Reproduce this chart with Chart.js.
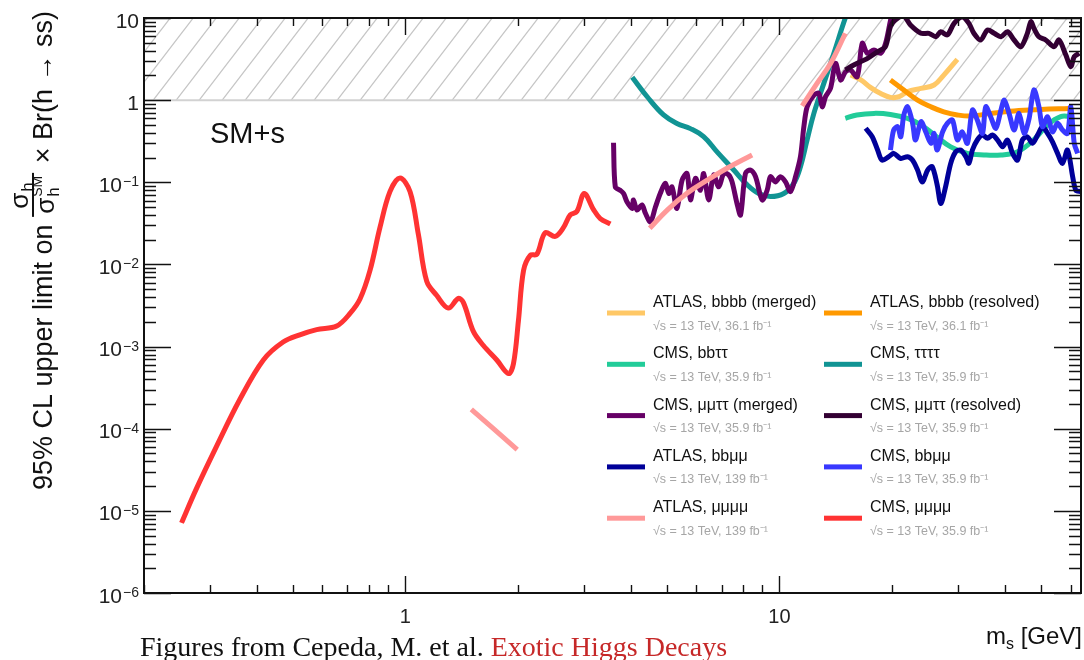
<!DOCTYPE html>
<html>
<head>
<meta charset="utf-8">
<script src="https://cdn.jsdelivr.net/npm/chart.js@4.4.1/dist/chart.umd.min.js"></script>
<style>
  html, body { margin: 0; padding: 0; background: #fff; }
  #wrap { width: 1084px; height: 660px; }
</style>
</head>
<body>
<div id="wrap"><canvas id="chart" width="1084" height="660"></canvas></div>
<script>
// m_s [GeV] and 95% CL limit on sigma_h/sigma_h^SM x Br(h -> ss)
const atlasBbbbMergedX = [15.5, 16.5, 17.5, 18.6, 19.8, 20.9, 22.0, 23.9, 25.9, 27.5, 29.9];
const atlasBbbbMergedY = [2.02, 1.76, 1.43, 1.21, 1.08, 1.10, 1.27, 1.39, 1.53, 2.02, 3.14];

const atlasBbbbResolvedX = [19.8, 21.5, 23.4, 25.4, 27.5, 29.9, 32.5, 36.7, 42.4, 50.0, 59.5];
const atlasBbbbResolvedY = [1.76, 1.33, 1.0, 0.83, 0.72, 0.66, 0.64, 0.69, 0.74, 0.77, 0.79];

const cmsBbtautauX = [15.0, 16.1, 17.9, 19.8, 22.0, 23.9, 25.9, 28.7, 31.8, 35.2, 39.1, 43.3, 47.9, 52.1, 56.5, 60.1];
const cmsBbtautauY = [0.60, 0.66, 0.69, 0.67, 0.60, 0.50, 0.38, 0.27, 0.225, 0.215, 0.215, 0.235, 0.33, 0.50, 0.63, 0.63];

const cms4tauX = [4.04, 4.43, 4.90, 5.32, 5.78, 6.27, 6.81, 7.55, 8.20, 8.80, 9.46, 10.27, 10.92, 11.38, 11.86, 12.36, 13.14, 13.98, 15.0, 15.3];
const cms4tauY = [1.90, 1.10, 0.66, 0.52, 0.45, 0.36, 0.235, 0.141, 0.093, 0.073, 0.067, 0.073, 0.097, 0.155, 0.33, 0.69, 1.60, 3.72, 10, 12];

const cmsMumutautauMergedX = [3.60, 3.64, 3.75, 3.83, 3.91, 4.04, 4.07, 4.16, 4.29, 4.38, 4.52, 4.66, 4.80, 4.95, 5.06,
  5.16, 5.32, 5.49, 5.66, 5.78, 5.96, 6.15, 6.27, 6.47, 6.67, 6.88, 7.10, 7.32, 7.47, 7.70, 7.87, 8.11, 8.37, 8.63, 8.99,
  9.27, 9.46, 9.75, 10.06, 10.38, 10.70, 11.04, 11.38, 11.62, 11.86, 12.36, 12.74, 13.01, 13.28, 13.69, 14.12, 14.57,
  15.02, 15.49, 16.14, 16.65, 17.17, 17.89, 18.64, 19.22, 19.82, 20.1];
const cmsMumutautauMergedY = [0.303, 0.088, 0.080, 0.073, 0.058, 0.048, 0.061, 0.046, 0.053, 0.042, 0.033, 0.050, 0.073, 0.097, 0.073,
  0.088, 0.048, 0.106, 0.128, 0.061, 0.112, 0.080, 0.128, 0.061, 0.123, 0.088, 0.128, 0.123, 0.101, 0.055, 0.040, 0.128, 0.141, 0.117, 0.061,
  0.080, 0.117, 0.101, 0.117, 0.101, 0.077, 0.117, 0.205, 0.474, 0.83, 1.15, 1.21, 0.83, 1.10, 1.39, 2.81, 1.76,
  2.22, 2.33, 1.93, 4.92, 3.72, 4.08, 3.72, 4.92, 9.46, 12];

const cmsMumutautauResolvedX = [15.0, 15.8, 17.2, 18.3, 19.2, 19.8, 20.4, 21.5, 22.4, 23.9, 25.1, 26.2, 27.0, 28.1, 29.3, 30.8, 32.1, 33.1,
  34.5, 36.0, 37.5, 39.1, 40.7, 42.4, 44.2, 46.0, 47.0, 47.9, 49.4, 51.5, 54.2, 55.9, 58.3, 60.1, 61.4, 63.3];
const cmsMumutautauResolvedY = [2.33, 2.68, 3.23, 3.89, 4.47, 7.83, 9.46, 10.5, 8.22, 6.51, 6.51, 5.92, 6.81, 6.21, 8.61, 10.3, 8.61, 6.51,
  5.40, 7.15, 6.51, 5.92, 6.81, 5.40, 4.47, 6.51, 9.02, 7.49, 5.92, 5.40, 4.47, 5.40, 3.54, 2.55, 3.38, 3.72];

const atlasBbmumuX = [17.0, 17.7, 18.3, 18.8, 19.6, 20.2, 21.1, 22.0, 22.7, 23.4, 24.1, 24.9, 25.6, 26.4, 27.0, 27.8, 28.7, 29.6, 30.5, 31.5,
  32.1, 32.8, 33.8, 34.9, 36.0, 37.1, 38.3, 39.5, 40.7, 42.0, 43.3, 44.6, 46.0, 47.5, 49.0, 50.5, 52.1, 53.7, 55.4, 57.1, 58.9, 60.8, 62.0, 63.9];
const atlasBbmumuY = [0.454, 0.358, 0.247, 0.186, 0.205, 0.225, 0.195, 0.205, 0.186, 0.141, 0.101, 0.141, 0.155, 0.093, 0.055, 0.088, 0.170, 0.235, 0.247, 0.205,
  0.170, 0.247, 0.327, 0.376, 0.343, 0.376, 0.327, 0.271, 0.327, 0.225, 0.186, 0.327, 0.358, 0.298, 0.376, 0.474, 0.394, 0.311, 0.225, 0.170, 0.247, 0.117, 0.080, 0.077];

const cmsBbmumuX = [19.8, 20.2, 20.7, 21.1, 21.5, 22.0, 22.7, 23.1, 23.9, 24.6, 25.4, 25.9, 26.4, 27.3, 28.1, 29.0, 29.9, 30.8, 31.8, 32.8,
  33.8, 34.9, 35.6, 36.7, 37.9, 39.1, 39.9, 41.1, 42.4, 43.7, 45.1, 46.5, 47.9, 49.4, 50.5, 52.1, 53.7, 55.4, 57.1, 58.9, 60.1, 61.4, 62.7];
const cmsBbmumuY = [0.247, 0.433, 0.474, 0.358, 0.659, 0.831, 0.522, 0.327, 0.546, 0.412, 0.298, 0.394, 0.247, 0.412, 0.522, 0.573, 0.327, 0.412, 0.298, 0.758,
  0.573, 0.394, 0.831, 0.628, 0.454, 0.758, 1.0, 0.69, 0.433, 0.69, 0.394, 0.60, 1.33, 0.831, 0.474, 0.628, 0.412, 0.522, 0.433, 0.394, 0.831, 0.298, 0.225];

// three separate pieces, null breaks the line
const atlas4muX = [1.50, 1.99, 3.0, 4.50, 5.01, 5.66, 6.41, 7.24, 8.45, 10.0, 11.5, 12.6, 13.7, 15.0];
const atlas4muY = [1.72e-4, 5.58e-5, null, 0.0275, 0.0459, 0.0733, 0.106, 0.148, 0.215, null, 0.85, 1.60, 2.81, 6.51];

const cms4muX = [0.252, 0.276, 0.313, 0.361, 0.417, 0.471, 0.522, 0.579, 0.655, 0.711, 0.756, 0.804, 0.855, 0.909, 0.967, 1.029, 1.083, 1.14, 1.213, 1.302,
  1.385, 1.429, 1.519, 1.616, 1.755, 1.886, 1.945, 2.005, 2.069, 2.156, 2.246, 2.364, 2.515, 2.647, 2.758, 2.874, 3.006, 3.184, 3.318, 3.53];
const cms4muY = [7.14e-6, 1.85e-5, 6.18e-5, 2.28e-4, 6.87e-4, 1.135e-3, 1.39e-3, 1.61e-3, 1.78e-3, 2.53e-3, 3.79e-3, 8.45e-3, 0.0282, 0.0769, 0.1125, 0.0769, 0.0231, 6.24e-3, 4.18e-3, 2.94e-3,
  3.86e-3, 3.43e-3, 1.53e-3, 1.03e-3, 6.87e-4, 4.69e-4, 6.21e-4, 2.07e-3, 8.45e-3, 0.0129, 0.0133, 0.0243, 0.0219, 0.0282, 0.040, 0.0442, 0.0731, 0.0465, 0.0362, 0.0311];

// excluded region (limit above 1)
const excludedX = [0.2, 64];
const excludedY = [1, 1];

const xMin = 0.2, xMax = 64;
const yMin = 1e-6, yMax = 10;

const legendLabels = ['ATLAS, bbbb (merged)', 'ATLAS, bbbb (resolved)', 'CMS, bb\u03c4\u03c4', 'CMS, \u03c4\u03c4\u03c4\u03c4',
  'CMS, \u03bc\u03bc\u03c4\u03c4 (merged)', 'CMS, \u03bc\u03bc\u03c4\u03c4 (resolved)', 'ATLAS, bb\u03bc\u03bc', 'CMS, bb\u03bc\u03bc',
  'ATLAS, \u03bc\u03bc\u03bc\u03bc', 'CMS, \u03bc\u03bc\u03bc\u03bc'];
const legendSubs = ['\u221as = 13 TeV, 36.1 fb\u207b\u00b9', '\u221as = 13 TeV, 36.1 fb\u207b\u00b9',
  '\u221as = 13 TeV, 35.9 fb\u207b\u00b9', '\u221as = 13 TeV, 35.9 fb\u207b\u00b9',
  '\u221as = 13 TeV, 35.9 fb\u207b\u00b9', '\u221as = 13 TeV, 35.9 fb\u207b\u00b9',
  '\u221as = 13 TeV, 139 fb\u207b\u00b9', '\u221as = 13 TeV, 35.9 fb\u207b\u00b9',
  '\u221as = 13 TeV, 139 fb\u207b\u00b9', '\u221as = 13 TeV, 35.9 fb\u207b\u00b9'];
const colors = ['#ffc866', '#ff9900', '#22cc99', '#119494', '#660066', '#330033', '#000099', '#3838ff', '#ff9999', '#ff3333'];

const FONT = '"Liberation Sans", Arial, sans-serif';

function pts(xs, ys) {
  return xs.map((x, i) => ({x: x, y: ys[i]}));
}

function isDecade(v) {
  const e = Math.log10(v);
  return Math.abs(e - Math.round(e)) < 1e-9;
}
function isStep(v) {
  const m = v / Math.pow(10, Math.floor(Math.log10(v) + 1e-9));
  return Math.abs(m - Math.round(m)) < 1e-6;
}

function hatchPattern() {
  const c = document.createElement('canvas');
  c.width = 23; c.height = 30;
  const g = c.getContext('2d');
  g.strokeStyle = '#c6c6c6';
  g.lineWidth = 1.3;
  g.beginPath();
  for (const k of [-1, 0, 1]) {
    g.moveTo(k * 23 - 23, 60);
    g.lineTo(k * 23 + 46, -30);
  }
  g.stroke();
  return g.createPattern(c, 'repeat');
}

const series = [
  [atlasBbbbMergedX, atlasBbbbMergedY, 9, 0.4],
  [atlasBbbbResolvedX, atlasBbbbResolvedY, 8, 0.4],
  [cmsBbtautauX, cmsBbtautauY, 7, 0.4],
  [cms4tauX, cms4tauY, 6, 0.4],
  [cmsMumutautauMergedX, cmsMumutautauMergedY, 5, 0.3],
  [cmsMumutautauResolvedX, cmsMumutautauResolvedY, 4, 0.3],
  [atlasBbmumuX, atlasBbmumuY, 3, 0.3],
  [cmsBbmumuX, cmsBbmumuY, 2, 0.3],
  [atlas4muX, atlas4muY, 1, 0.4],
  [cms4muX, cms4muY, 0, 0.35]
];

const datasets = series.map((s, i) => ({
  label: legendLabels[i],
  sub: legendSubs[i],
  data: pts(s[0], s[1]),
  borderColor: colors[i],
  backgroundColor: colors[i],
  borderWidth: 5,
  pointRadius: 0,
  tension: s[3],
  order: s[2],
  clip: 0,
  fill: false
}));

datasets.push({
  label: 'excluded',
  data: pts(excludedX, excludedY),
  borderColor: '#d2d2d2',
  borderWidth: 2,
  backgroundColor: hatchPattern(),
  fill: 'end',
  pointRadius: 0,
  order: 100,
  clip: 0
});

// inward ticks on all four sides, the box, and decade labels with real superscripts
const framePlugin = {
  id: 'frame',
  afterDraw(chart) {
    const {ctx, chartArea: a, scales: {x, y}} = chart;
    ctx.save();
    ctx.strokeStyle = '#111';
    ctx.lineWidth = 1.4;
    ctx.beginPath();
    x.ticks.forEach(t => {
      if (!isStep(t.value)) return;
      const px = Math.round(x.getPixelForValue(t.value)) + 0.5;
      const len = isDecade(t.value) ? 17 : 8;
      ctx.moveTo(px, a.bottom); ctx.lineTo(px, a.bottom - len);
      ctx.moveTo(px, a.top); ctx.lineTo(px, a.top + len);
    });
    y.ticks.forEach(t => {
      if (!isStep(t.value)) return;
      const py = Math.round(y.getPixelForValue(t.value)) + 0.5;
      const len = isDecade(t.value) ? 27 : 12;
      ctx.moveTo(a.left, py); ctx.lineTo(a.left + len, py);
      ctx.moveTo(a.right, py); ctx.lineTo(a.right - len, py);
    });
    ctx.stroke();
    ctx.lineWidth = 2;
    ctx.strokeRect(a.left, a.top, a.right - a.left, a.bottom - a.top);

    ctx.fillStyle = '#222';
    ctx.textBaseline = 'alphabetic';
    y.ticks.forEach(t => {
      if (!isDecade(t.value)) return;
      const e = Math.round(Math.log10(t.value));
      const py = y.getPixelForValue(t.value);
      const base = e === 0 ? '1' : '10';
      const ex = e < 0 ? '\u2212' + (-e) : (e > 1 ? String(e) : '');
      ctx.font = '14px ' + FONT;
      const we = ex ? ctx.measureText(ex).width + 1 : 0;
      ctx.font = '21px ' + FONT;
      ctx.textAlign = 'right';
      ctx.fillText(base, a.left - 5 - we, py + 9.5);
      if (ex) {
        ctx.font = '14px ' + FONT;
        ctx.textAlign = 'left';
        ctx.fillText(ex, a.left - 5 - we + 1, py + 4);
      }
    });
    ctx.textAlign = 'center';
    ctx.font = '20px ' + FONT;
    x.ticks.forEach(t => {
      if (!isDecade(t.value)) return;
      const e = Math.round(Math.log10(t.value));
      ctx.fillText(e === 0 ? '1' : '10', x.getPixelForValue(t.value), a.bottom + 30);
    });
    ctx.restore();
  }
};

const textPlugin = {
  id: 'texts',
  afterDraw(chart) {
    const ctx = chart.ctx;
    ctx.save();
    ctx.fillStyle = '#111';
    ctx.textBaseline = 'alphabetic';
    ctx.textAlign = 'left';

    ctx.font = '29px ' + FONT;
    ctx.fillText('SM+s', 210, 143);

    // y axis title, rotated
    ctx.save();
    ctx.translate(52, 490);
    ctx.rotate(-Math.PI / 2);
    ctx.font = '27px ' + FONT;
    const t1 = '95% CL upper limit on ';
    ctx.fillText(t1, 0, 0);
    let u = ctx.measureText(t1).width;
    const fw = 44;
    ctx.fillRect(u, -20, fw, 2);
    ctx.font = '26px ' + FONT;
    const sw = ctx.measureText('\u03c3').width;
    ctx.fillText('\u03c3', u + 8, -24);
    ctx.font = '17px ' + FONT;
    ctx.fillText('h', u + 8 + sw + 1, -19.5);
    ctx.font = '26px ' + FONT;
    ctx.fillText('\u03c3', u + 3, 2);
    ctx.font = '17px ' + FONT;
    ctx.fillText('h', u + 3 + sw + 1, 7);
    ctx.font = '14px ' + FONT;
    ctx.fillText('SM', u + 3 + sw + 1, -10);
    u += fw + 2;
    ctx.font = '27px ' + FONT;
    ctx.fillText(' \u00d7 Br(h \u2192 ss)', u, 0);
    ctx.restore();

    // x axis title
    ctx.font = '24px ' + FONT;
    const wm = ctx.measureText('m').width;
    const wr = ctx.measureText(' [GeV]').width;
    ctx.font = '16px ' + FONT;
    const ws = ctx.measureText('s').width;
    const xs = 1082 - wm - ws - wr;
    ctx.font = '24px ' + FONT;
    ctx.fillText('m', xs, 644);
    ctx.font = '16px ' + FONT;
    ctx.fillText('s', xs + wm, 649);
    ctx.font = '24px ' + FONT;
    ctx.fillText(' [GeV]', xs + wm + ws, 644);

    // caption
    ctx.font = '28px "Liberation Serif", "Times New Roman", serif';
    const cap1 = 'Figures from Cepeda, M. et al. ';
    ctx.fillText(cap1, 140, 656);
    ctx.fillStyle = '#c62828';
    ctx.fillText('Exotic Higgs Decays', 140 + ctx.measureText(cap1).width, 656);
    ctx.restore();
  }
};

// two column legend with a grey sub line
const legendPlugin = {
  id: 'sideLegend',
  afterDraw(chart) {
    const ctx = chart.ctx;
    ctx.save();
    ctx.textBaseline = 'alphabetic';
    ctx.textAlign = 'left';
    let k = 0;
    chart.data.datasets.forEach(ds => {
      if (ds.sub === undefined) return;
      const col = k % 2, row = Math.floor(k / 2);
      const x0 = 607 + col * 217;
      const y0 = 313 + row * 51.3;
      ctx.fillStyle = ds.borderColor;
      ctx.fillRect(x0, y0 - 2.5, 38, 5);
      ctx.fillStyle = '#111';
      ctx.font = '16px ' + FONT;
      ctx.fillText(ds.label, x0 + 46, y0 - 6);
      ctx.fillStyle = '#a6a6a6';
      ctx.font = '12.5px ' + FONT;
      ctx.fillText(ds.sub, x0 + 46, y0 + 16.5);
      k++;
    });
    ctx.restore();
  }
};

Chart.defaults.font.family = FONT;
Chart.defaults.color = '#222';

new Chart(document.getElementById('chart'), {
  type: 'line',
  data: {datasets: datasets},
  options: {
    responsive: false,
    animation: false,
    devicePixelRatio: 1,
    layout: {padding: {top: 18, right: 3, left: 0, bottom: 0}},
    plugins: {legend: {display: false}, tooltip: {enabled: false}},
    scales: {
      x: {
        type: 'logarithmic',
        min: xMin,
        max: xMax,
        grid: {display: false},
        border: {display: false},
        ticks: {display: false, autoSkip: false},
        afterFit: s => { s.height = 67; }
      },
      y: {
        type: 'logarithmic',
        min: yMin,
        max: yMax,
        grid: {display: false},
        border: {display: false},
        ticks: {display: false, autoSkip: false},
        afterFit: s => { s.width = 144; }
      }
    }
  },
  plugins: [framePlugin, textPlugin, legendPlugin]
});
</script>
</body>
</html>
